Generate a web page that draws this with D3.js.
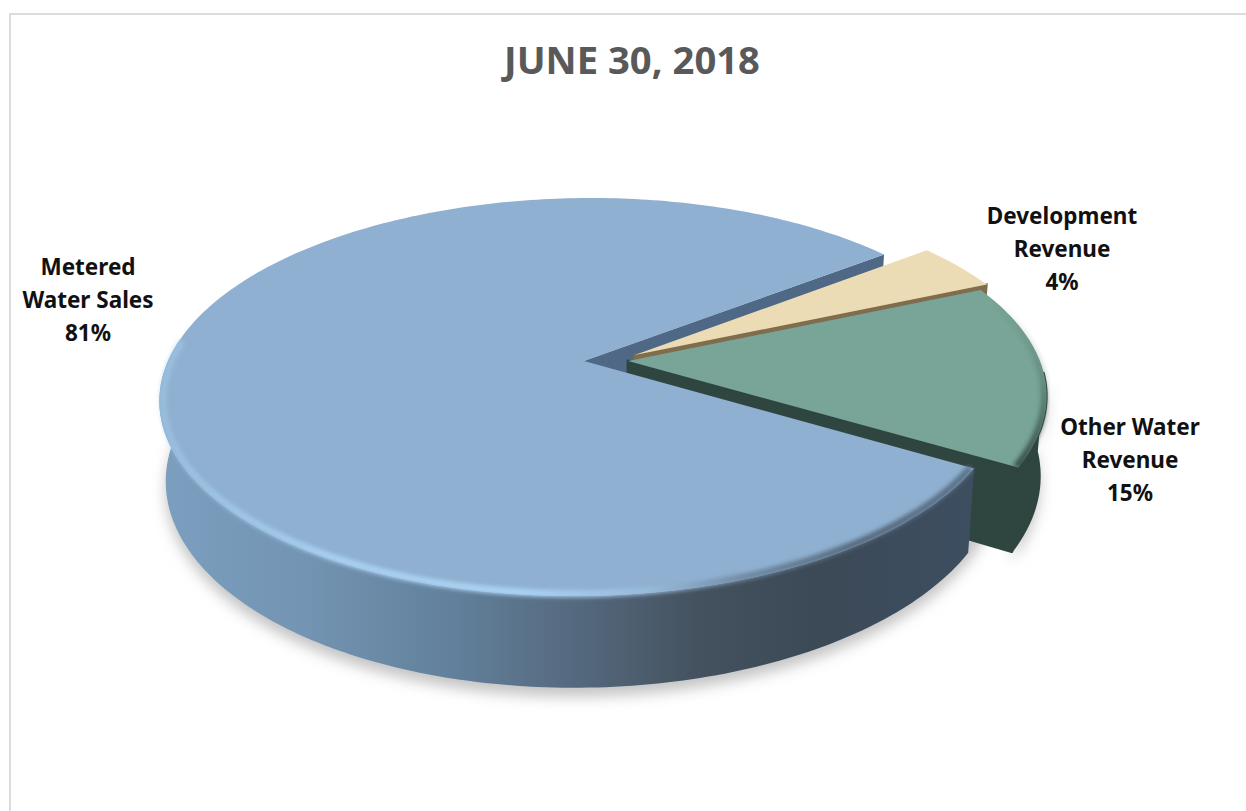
<!DOCTYPE html>
<html>
<head>
<meta charset="utf-8">
<title>June 30, 2018</title>
<script src="https://cdn.jsdelivr.net/npm/d3@7/dist/d3.min.js"></script>
<style>
  html, body { margin: 0; background: #fff; overflow: hidden; }
  svg { display: block; }
  text { font-family: "Noto Sans", "Open Sans", sans-serif; font-weight: 700; }
</style>
</head>
<body>
<script>
// Revenue shares for the fiscal year
const chartTitle = "JUNE 30, 2018";
const categories = ["Metered Water Sales", "Development Revenue", "Other Water Revenue"];
const shares = [81, 4, 15];
const labelLines = [["Metered", "Water Sales"], ["Development", "Revenue"], ["Other Water", "Revenue"]];

const width = 1246, height = 811;
const svg = d3.select("body").append("svg").attr("width", width).attr("height", height);
const defs = svg.append("defs");

// Pie angles: first slice starts below the right-hand side and runs clockwise
const rad = d => d * Math.PI / 180;
const slices = d3.pie().sort(null).startAngle(rad(120.5)).endAngle(rad(480.5))(shares);

// Disc plane to screen: a mild perspective makes the near side larger
const tilt = 0.181, depth = 78, bottomShrink = 0.985, shear = 0.02;
const xScale = d3.scaleLinear().domain([0, 1]).range([584, 584 + 416]);
const yScale = d3.scaleLinear().domain([0, 1]).range([361, 361 + 192.5]);

function project(u, v, h) {
  const w = 1 - tilt * v, s = 1 - (1 - bottomShrink) * h;
  return [xScale((u - shear * v) * s / w), yScale(v * s / w) + depth * h / w];
}

// Each slice's pull-out from the pie, in disc units, and its rim radius
const pull = [[0, 0], [0.122, -0.031], [0.106, 0]];
const rimRadius = [1, 0.995, 0.99];

function point(i, angle, r, h) {
  const [ox, oy] = pull[i];
  return project(ox + r * Math.sin(angle), oy - r * Math.cos(angle), h);
}
function arcPoints(i, a0, a1, h, r) {
  const n = Math.max(2, Math.ceil(Math.abs(a1 - a0) / rad(1)));
  return d3.range(n + 1).map(k => point(i, a0 + (a1 - a0) * k / n, r === undefined ? rimRadius[i] : r, h));
}
const line = d3.line();
const closed = pts => line(pts) + "Z";

const topFace = i => closed([point(i, 0, 0, 0), ...arcPoints(i, slices[i].startAngle, slices[i].endAngle, 0)]);
const cutFace = (i, a) => closed([point(i, 0, 0, 0), point(i, a, rimRadius[i], 0), point(i, a, rimRadius[i], 1), point(i, 0, 0, 1)]);
const rimWall = (i, a0, a1) => closed([...arcPoints(i, a0, a1, 0), ...arcPoints(i, a0, a1, 1).reverse()]);

// Filters and gradients
const blur = (id, sd) => defs.append("filter").attr("id", id)
  .attr("x", "-10%").attr("y", "-10%").attr("width", "120%").attr("height", "120%")
  .append("feGaussianBlur").attr("stdDeviation", sd);
blur("soft", 2);
blur("edge", 0.7);
blur("shadow", 7);

function gradient(id, stops, vertical) {
  const g = defs.append("linearGradient").attr("id", id)
    .attr("x1", 0).attr("y1", 0).attr("x2", vertical ? 0 : 1).attr("y2", vertical ? 1 : 0);
  stops.forEach(([o, c, a]) => g.append("stop").attr("offset", o).attr("stop-color", c).attr("stop-opacity", a === undefined ? 1 : a));
}
gradient("wallBlue", [[0, "#7c9fc0"], [0.18, "#7394b2"], [0.36, "#62809b"], [0.5, "#566b80"], [0.66, "#44525f"], [0.8, "#3c4956"], [1, "#3d4e61"]]);
gradient("rimBlue", [[0, "#a3cbec", 0.5], [0.2, "#a8d0f1"], [0.45, "#abd3f4"], [0.6, "#98bcdc"], [0.72, "#6f88a1"], [0.86, "#55697d"], [1, "#5b7288"]]);
gradient("rimGreen", [[0, "#2f4540", 0], [0.45, "#2f4540", 0.25], [1, "#2f4540", 0.9]], true);

// Frame along the top and left of the page
svg.append("rect").attr("x", 10).attr("y", 14).attr("width", width + 20).attr("height", height + 20)
  .attr("fill", "#fff").attr("stroke", "#dcdcdc").attr("stroke-width", 2);

// Soft shadow beneath the disc
const [blue, beige, green] = [0, 1, 2];
const greenEnd = slices[green].endAngle;
const greenWallEnd = greenEnd - rad(27);
const shadow = svg.append("g").attr("filter", "url(#shadow)").attr("transform", "translate(0,9)");
shadow.append("path").attr("d", closed(arcPoints(blue, 0, 2 * Math.PI, 1))).attr("fill", "#c4c4c4");
shadow.append("path").attr("d", rimWall(green, greenEnd, greenWallEnd)).attr("fill", "#c4c4c4");

// Visible cut face of the large slice, seen through the gap
svg.append("path").attr("d", cutFace(blue, slices[blue].endAngle)).attr("fill", "#4e6886");

// Development slice
svg.append("path").attr("d", cutFace(beige, slices[beige].endAngle)).attr("fill", "#7f6d4d")
  .attr("stroke", "#7f6d4d").attr("stroke-width", 2);
svg.append("path").attr("d", topFace(beige)).attr("fill", "#ecdcb6").attr("filter", "url(#edge)");

// Other water slice
const darkGreen = "#2f4540";
svg.append("path").attr("d", cutFace(green, greenEnd)).attr("fill", darkGreen)
  .attr("stroke", darkGreen).attr("stroke-width", 3).attr("stroke-linejoin", "round");
svg.append("path").attr("d", rimWall(green, greenEnd, greenWallEnd)).attr("fill", darkGreen)
  .attr("stroke", darkGreen).attr("stroke-width", 2).attr("stroke-linejoin", "round");
svg.append("path").attr("d", topFace(green)).attr("fill", "#78a597").attr("filter", "url(#edge)");
svg.append("path").attr("d", line(arcPoints(green, greenEnd, greenEnd - rad(50), 0, 0.985)))
  .attr("fill", "none").attr("stroke", "url(#rimGreen)").attr("stroke-width", 7).attr("filter", "url(#soft)");

// Metered water slice, frontmost
svg.append("path").attr("d", rimWall(blue, slices[blue].startAngle, rad(276))).attr("fill", "url(#wallBlue)");
svg.append("path").attr("d", topFace(blue)).attr("fill", "#8fb0d0").attr("filter", "url(#edge)");
svg.append("path").attr("d", line(arcPoints(blue, rad(276), slices[blue].startAngle, 0, 0.992)))
  .attr("fill", "none").attr("stroke", "url(#rimBlue)").attr("stroke-width", 7).attr("filter", "url(#soft)");

// Title
svg.append("text").attr("x", 632).attr("y", 74).attr("text-anchor", "middle")
  .attr("font-size", 38).attr("fill", "#595959").attr("textLength", 256).attr("lengthAdjust", "spacingAndGlyphs")
  .text(chartTitle);

// Slice labels: name lines followed by the share
const labelAnchors = [[88, 275], [1062, 224], [1130, 435]];
const labels = svg.append("g").selectAll("text").data(categories).join("text")
  .attr("text-anchor", "middle").attr("fill", "#111").attr("font-size", 22.5);
labels.each(function (d, i) {
  const [x, y] = labelAnchors[i];
  [...labelLines[i], shares[i] + "%"].forEach((t, k) => {
    d3.select(this).append("tspan").attr("x", x).attr("y", y + k * 33).text(t);
  });
});
</script>
</body>
</html>
